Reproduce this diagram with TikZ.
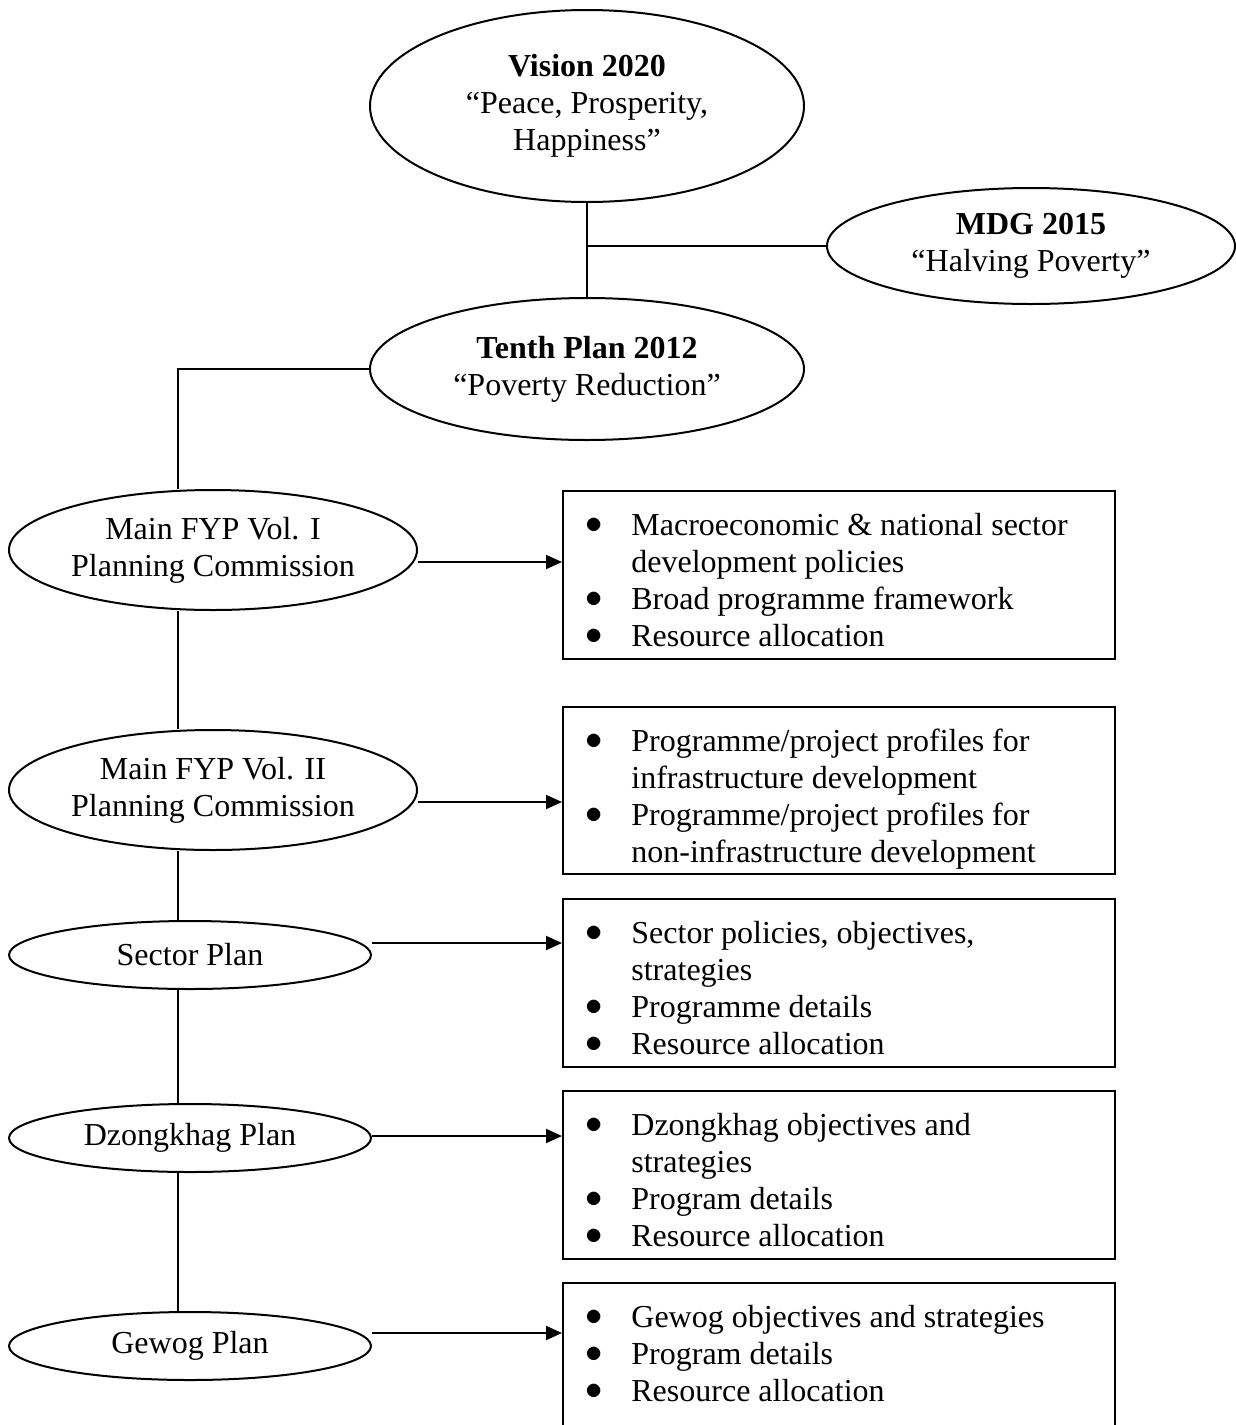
\documentclass[tikz,border=0pt]{standalone}
\usepackage{fontspec}
\setmainfont{Liberation Serif}
\usetikzlibrary{shapes.geometric,arrows.meta}
\tikzset{
	plan/.style={draw,ellipse,line width=1pt,inner sep=0pt,align=center},
	listbox/.style={draw,rectangle,line width=1pt,anchor=north west,minimum width=276pt,inner sep=0pt},
	listtext/.style={anchor=base west,inner sep=0pt},
	link/.style={line width=1pt},
	feed/.style={line width=1pt,-{Triangle[length=8pt,width=7pt]}}
}
\newcommand{\bul}{\raisebox{0.04em}{$\bullet$}}
\newcommand{\planlist}[1]{\begin{tabular}[t]{@{}p{23pt}@{}l@{}}#1\end{tabular}}
\begin{document}
\begin{tikzpicture}[x=0.5pt,y=-0.5pt,font=\fontsize{16}{18.5}\selectfont]
	\useasboundingbox (0,0) rectangle (1236,1425);
	% goals
	\node[plan,minimum width=217pt,minimum height=96pt] (vision) at (587,106) {\textbf{Vision 2020}\\“Peace, Prosperity,\\Happiness”};
	\node[plan,minimum width=204pt,minimum height=58pt] (mdg) at (1031,246) {\textbf{MDG 2015}\\“Halving Poverty”};
	\node[plan,minimum width=217pt,minimum height=71pt] (tenth) at (587,369) {\textbf{Tenth Plan 2012}\\“Poverty Reduction”};
	% plan documents
	\node[plan,minimum width=204pt,minimum height=60pt] (mfyp1) at (213,550) {Main FYP Vol. I\\Planning Commission};
	\node[plan,minimum width=204pt,minimum height=60pt] (mfyp2) at (213,790) {Main FYP Vol. II\\Planning Commission};
	\node[plan,minimum width=181pt,minimum height=34pt] (sector) at (190,955) {Sector Plan};
	\node[plan,minimum width=181pt,minimum height=34pt] (dzong) at (190,1138) {Dzongkhag Plan};
	\node[plan,minimum width=181pt,minimum height=34pt] (gewog) at (190,1346) {Gewog Plan};
	% contents
	\node[listbox,minimum height=84pt] (box1) at (562,490) {};
	\node[listbox,minimum height=83.5pt] (box2) at (562,706) {};
	\node[listbox,minimum height=84pt] (box3) at (562,898) {};
	\node[listbox,minimum height=84pt] (box4) at (562,1090) {};
	\node[listbox,minimum height=80pt] (box5) at (562,1282) {};
	\node[listtext] (list1) at ([shift={(23,45)}]box1.north west) {\planlist{\bul & Macroeconomic \& national sector\\ & development policies\\ \bul & Broad programme framework\\ \bul & Resource allocation}};
	\node[listtext] (list2) at ([shift={(23,45)}]box2.north west) {\planlist{\bul & Programme/project profiles for\\ & infrastructure development\\ \bul & Programme/project profiles for\\ & non-infrastructure development}};
	\node[listtext] (list3) at ([shift={(23,45)}]box3.north west) {\planlist{\bul & Sector policies, objectives,\\ & strategies\\ \bul & Programme details\\ \bul & Resource allocation}};
	\node[listtext] (list4) at ([shift={(23,45)}]box4.north west) {\planlist{\bul & Dzongkhag objectives and\\ & strategies\\ \bul & Program details\\ \bul & Resource allocation}};
	\node[listtext] (list5) at ([shift={(23,45)}]box5.north west) {\planlist{\bul & Gewog objectives and strategies\\ \bul & Program details\\ \bul & Resource allocation}};
	% tree lines
	\coordinate (spine) at (178,0);
	\draw[link] (vision.south) -- (tenth.north);
	\draw[link] (mdg.west) -- (mdg.west -| vision.south);
	\draw[link] (tenth.west) -| (mfyp1.north -| spine);
	\draw[link] (mfyp1.south -| spine) -- (mfyp2.north -| spine);
	\draw[link] (mfyp2.south -| spine) -- (sector.north -| spine);
	\draw[link] (sector.south -| spine) -- (dzong.north -| spine);
	\draw[link] (dzong.south -| spine) -- (gewog.north -| spine);
	% arrows
	\coordinate (f1) at ([yshift=-6pt]mfyp1.east);
	\coordinate (f2) at ([yshift=-6pt]mfyp2.east);
	\coordinate (f3) at ([yshift=6pt]sector.east);
	\coordinate (f4) at ([yshift=1pt]dzong.east);
	\coordinate (f5) at ([yshift=6.5pt]gewog.east);
	\draw[feed] (f1) -- (f1 -| box1.west);
	\draw[feed] (f2) -- (f2 -| box2.west);
	\draw[feed] (f3) -- (f3 -| box3.west);
	\draw[feed] (f4) -- (f4 -| box4.west);
	\draw[feed] (f5) -- (f5 -| box5.west);
\end{tikzpicture}
\end{document}
